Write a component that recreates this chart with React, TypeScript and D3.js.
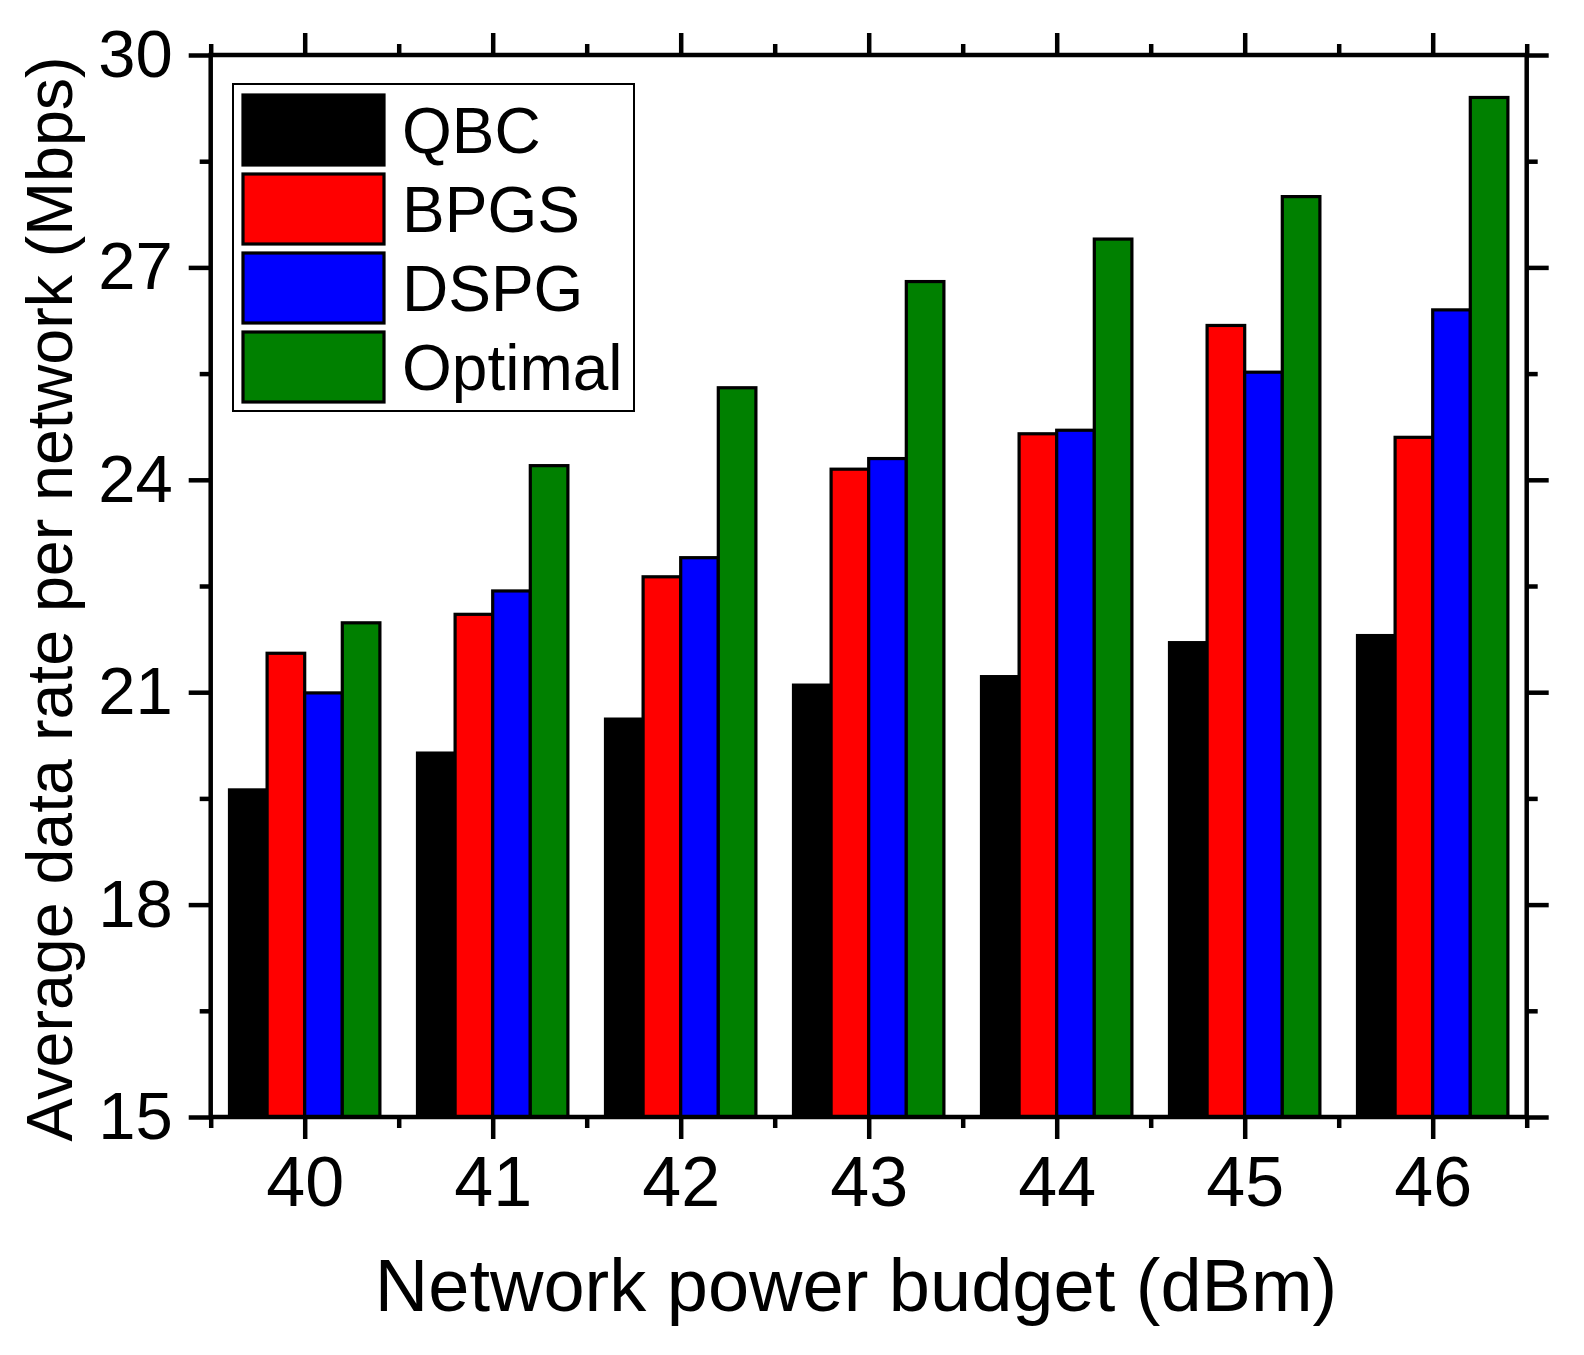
// @ts-nocheck
import * as d3 from 'd3';
import React, { useEffect, useRef } from 'react';

const budgets = ['40', '41', '42', '43', '44', '45', '46'];
const seriesNames = ['QBC', 'BPGS', 'DSPG', 'Optimal'];
const seriesColors = ['#000000', '#ff0000', '#0000ff', '#008000'];

const qbc = [19.62, 20.14, 20.62, 21.1, 21.22, 21.7, 21.8];
const bpgs = [21.55, 22.1, 22.63, 24.15, 24.65, 26.18, 24.6];
const dspg = [20.99, 22.43, 22.9, 24.3, 24.7, 25.52, 26.4];
const optimal = [21.98, 24.2, 25.3, 26.8, 27.4, 28.0, 29.4];

const yMajor = [15, 18, 21, 24, 27, 30];
const yMinor = [16.5, 19.5, 22.5, 25.5, 28.5];

const W = 1584;
const H = 1355;
const FONT = '"Liberation Sans", Arial, Helvetica, sans-serif';

export default function App() {
  const svgRef = useRef<SVGSVGElement>(null);

  useEffect(() => {
    const svg = d3.select(svgRef.current);
    svg.selectAll('*').remove();

    const left = 210.7;
    const right = 1526.7;
    const top = 55;
    const bottom = 1117;

    const allSeries = [qbc, bpgs, dspg, optimal];

    // category band for groups, inner band for the four bars
    const x = d3.scaleBand().domain(budgets).range([left, right]).paddingInner(0.2).paddingOuter(0.1);
    const xSub = d3.scaleBand().domain(seriesNames).range([0, x.bandwidth()]);
    // numeric scale for ticks
    const xNum = d3.scaleLinear().domain([39.5, 46.5]).range([left, right]);
    const y = d3.scaleLinear().domain([15, 30]).range([bottom, top]);

    const xMajor = budgets.map(Number);
    const xMinor = d3.range(39.5, 47, 1);

    // bars
    const groups = svg
      .append('g')
      .selectAll('g')
      .data(budgets)
      .enter()
      .append('g')
      .attr('transform', d => `translate(${x(d)},0)`);

    groups
      .selectAll('rect')
      .data((d, i) => seriesNames.map((s, k) => ({ s, k, v: allSeries[k][i] })))
      .enter()
      .append('rect')
      .attr('x', d => xSub(d.s))
      .attr('width', xSub.bandwidth())
      .attr('y', d => y(d.v))
      .attr('height', d => y(15) - y(d.v))
      .attr('fill', d => seriesColors[d.k])
      .attr('stroke', '#000')
      .attr('stroke-width', 3.2);

    const styleAxis = (g, fontSize) => {
      g.select('.domain').remove();
      g.selectAll('line').attr('stroke', '#000').attr('stroke-width', 4.5);
      g.selectAll('text').attr('fill', '#000').style('font-family', FONT).style('font-size', fontSize + 'px');
    };

    // left axis
    svg.append('g').attr('transform', `translate(${left},0)`)
      .call(d3.axisLeft(y).tickValues(yMajor).tickSize(22).tickSizeOuter(0).tickPadding(16).tickFormat(d3.format('d')))
      .call(g => styleAxis(g, 67));
    svg.append('g').attr('transform', `translate(${left},0)`)
      .call(d3.axisLeft(y).tickValues(yMinor).tickSize(11).tickSizeOuter(0).tickFormat(''))
      .call(g => styleAxis(g, 67));

    // right axis
    svg.append('g').attr('transform', `translate(${right},0)`)
      .call(d3.axisRight(y).tickValues(yMajor).tickSize(22).tickSizeOuter(0).tickFormat(''))
      .call(g => styleAxis(g, 67));
    svg.append('g').attr('transform', `translate(${right},0)`)
      .call(d3.axisRight(y).tickValues(yMinor).tickSize(11).tickSizeOuter(0).tickFormat(''))
      .call(g => styleAxis(g, 67));

    // bottom axis
    svg.append('g').attr('transform', `translate(0,${bottom})`)
      .call(d3.axisBottom(xNum).tickValues(xMajor).tickSize(22).tickSizeOuter(0).tickPadding(17).tickFormat(d3.format('d')))
      .call(g => styleAxis(g, 70));
    svg.append('g').attr('transform', `translate(0,${bottom})`)
      .call(d3.axisBottom(xNum).tickValues(xMinor).tickSize(11).tickSizeOuter(0).tickFormat(''))
      .call(g => styleAxis(g, 70));

    // top axis
    svg.append('g').attr('transform', `translate(0,${top})`)
      .call(d3.axisTop(xNum).tickValues(xMajor).tickSize(22).tickSizeOuter(0).tickFormat(''))
      .call(g => styleAxis(g, 70));
    svg.append('g').attr('transform', `translate(0,${top})`)
      .call(d3.axisTop(xNum).tickValues(xMinor).tickSize(11).tickSizeOuter(0).tickFormat(''))
      .call(g => styleAxis(g, 70));

    // frame
    svg.append('rect')
      .attr('x', left)
      .attr('y', top)
      .attr('width', right - left)
      .attr('height', bottom - top)
      .attr('fill', 'none')
      .attr('stroke', '#000')
      .attr('stroke-width', 4.5);

    // legend
    const legend = svg.append('g');
    legend.append('rect')
      .attr('x', 233)
      .attr('y', 84)
      .attr('width', 401)
      .attr('height', 327)
      .attr('fill', '#fff')
      .attr('stroke', '#000')
      .attr('stroke-width', 2);

    const items = legend.selectAll('.item')
      .data(seriesNames)
      .enter()
      .append('g')
      .attr('class', 'item')
      .attr('transform', (d, i) => `translate(0,${130 + i * 79})`);

    items.append('rect')
      .attr('x', 243)
      .attr('y', -35)
      .attr('width', 141)
      .attr('height', 70)
      .attr('fill', (d, i) => seriesColors[i])
      .attr('stroke', '#000')
      .attr('stroke-width', 3.2);

    items.append('text')
      .attr('x', 402)
      .attr('dy', '0.36em')
      .style('font-family', FONT)
      .style('font-size', '64px')
      .attr('fill', '#000')
      .text(d => d);

    // axis titles
    svg.append('text')
      .attr('transform', `translate(72,599) rotate(-90)`)
      .attr('text-anchor', 'middle')
      .style('font-family', FONT)
      .style('font-size', '64.5px')
      .attr('fill', '#000')
      .text('Average data rate per network (Mbps)');

    svg.append('text')
      .attr('x', 856)
      .attr('y', 1311)
      .attr('text-anchor', 'middle')
      .style('font-family', FONT)
      .style('font-size', '74px')
      .attr('fill', '#000')
      .text('Network power budget (dBm)');
  }, []);

  return (
    <div style={{ position: 'absolute', left: 0, top: 0 }}>
      <svg ref={svgRef} width={W} height={H} style={{ display: 'block', background: '#fff' }} />
    </div>
  );
}
